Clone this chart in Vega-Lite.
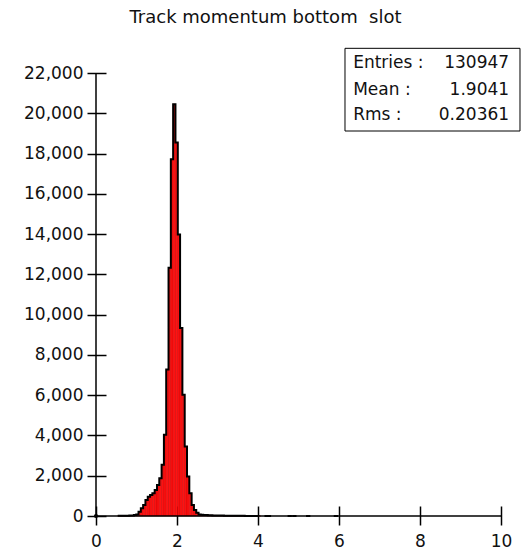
{
  "$schema": "https://vega.github.io/schema/vega-lite/v6.json",
  "width": 405,
  "height": 443,
  "autosize": {"type": "none"},
  "padding": {"left": 96, "top": 73, "right": 26, "bottom": 36},
  "background": "white",
  "config": {"view": {"stroke": null}, "font": "DejaVu Sans"},
  "title": {"text": "Track momentum bottom\u00a0 slot", "anchor": "middle", "frame": "group", "dx": -33, "dy": 15, "fontSize": 18, "fontWeight": "normal", "font": "DejaVu Sans", "color": "#111111", "baseline": "alphabetic", "offset": 22},
  "datasets": {
    "hist": [
      {"bin_start": 0.537, "bin_end": 0.594, "count": 8},
      {"bin_start": 0.594, "bin_end": 0.651, "count": 10},
      {"bin_start": 0.651, "bin_end": 0.708, "count": 12},
      {"bin_start": 0.708, "bin_end": 0.765, "count": 15},
      {"bin_start": 0.765, "bin_end": 0.822, "count": 18},
      {"bin_start": 0.822, "bin_end": 0.879, "count": 22},
      {"bin_start": 0.879, "bin_end": 0.936, "count": 30},
      {"bin_start": 0.936, "bin_end": 0.993, "count": 45},
      {"bin_start": 0.993, "bin_end": 1.050, "count": 80},
      {"bin_start": 1.050, "bin_end": 1.107, "count": 215},
      {"bin_start": 1.107, "bin_end": 1.164, "count": 380},
      {"bin_start": 1.164, "bin_end": 1.221, "count": 550},
      {"bin_start": 1.221, "bin_end": 1.278, "count": 800},
      {"bin_start": 1.278, "bin_end": 1.335, "count": 960},
      {"bin_start": 1.335, "bin_end": 1.392, "count": 1045},
      {"bin_start": 1.392, "bin_end": 1.449, "count": 1130},
      {"bin_start": 1.449, "bin_end": 1.506, "count": 1290},
      {"bin_start": 1.506, "bin_end": 1.563, "count": 1540},
      {"bin_start": 1.563, "bin_end": 1.620, "count": 1875},
      {"bin_start": 1.620, "bin_end": 1.677, "count": 2540},
      {"bin_start": 1.677, "bin_end": 1.734, "count": 4030},
      {"bin_start": 1.734, "bin_end": 1.791, "count": 7270},
      {"bin_start": 1.791, "bin_end": 1.848, "count": 12330},
      {"bin_start": 1.848, "bin_end": 1.905, "count": 17720},
      {"bin_start": 1.905, "bin_end": 1.962, "count": 20450},
      {"bin_start": 1.962, "bin_end": 2.019, "count": 18550},
      {"bin_start": 2.019, "bin_end": 2.076, "count": 13985},
      {"bin_start": 2.076, "bin_end": 2.133, "count": 9340},
      {"bin_start": 2.133, "bin_end": 2.190, "count": 6020},
      {"bin_start": 2.190, "bin_end": 2.247, "count": 3450},
      {"bin_start": 2.247, "bin_end": 2.304, "count": 1960},
      {"bin_start": 2.304, "bin_end": 2.361, "count": 1130},
      {"bin_start": 2.361, "bin_end": 2.418, "count": 550},
      {"bin_start": 2.418, "bin_end": 2.475, "count": 300},
      {"bin_start": 2.475, "bin_end": 2.532, "count": 165},
      {"bin_start": 2.532, "bin_end": 2.589, "count": 80},
      {"bin_start": 2.589, "bin_end": 2.646, "count": 60},
      {"bin_start": 2.646, "bin_end": 2.703, "count": 50},
      {"bin_start": 2.703, "bin_end": 2.760, "count": 45},
      {"bin_start": 2.760, "bin_end": 2.817, "count": 40},
      {"bin_start": 2.817, "bin_end": 2.874, "count": 35},
      {"bin_start": 2.874, "bin_end": 2.931, "count": 30},
      {"bin_start": 2.931, "bin_end": 2.988, "count": 28},
      {"bin_start": 2.988, "bin_end": 3.045, "count": 25},
      {"bin_start": 3.045, "bin_end": 3.102, "count": 22},
      {"bin_start": 3.102, "bin_end": 3.159, "count": 20},
      {"bin_start": 3.159, "bin_end": 3.216, "count": 18},
      {"bin_start": 3.216, "bin_end": 3.273, "count": 16},
      {"bin_start": 3.273, "bin_end": 3.330, "count": 14},
      {"bin_start": 3.330, "bin_end": 3.387, "count": 12},
      {"bin_start": 3.387, "bin_end": 3.444, "count": 11},
      {"bin_start": 3.444, "bin_end": 3.501, "count": 10},
      {"bin_start": 3.501, "bin_end": 3.558, "count": 9},
      {"bin_start": 3.558, "bin_end": 3.615, "count": 8},
      {"bin_start": 3.615, "bin_end": 3.672, "count": 7},
      {"bin_start": 3.672, "bin_end": 3.729, "count": 6},
      {"bin_start": 3.729, "bin_end": 3.786, "count": 5},
      {"bin_start": 3.786, "bin_end": 3.843, "count": 5},
      {"bin_start": 3.843, "bin_end": 3.900, "count": 4},
      {"bin_start": 3.900, "bin_end": 3.957, "count": 4},
      {"bin_start": 3.957, "bin_end": 4.014, "count": 3},
      {"bin_start": 4.014, "bin_end": 4.071, "count": 0}
    ],
    "sparse": [
      {"bin_start": 4.185, "bin_end": 4.242, "count": 1},
      {"bin_start": 4.242, "bin_end": 4.299, "count": 1},
      {"bin_start": 4.755, "bin_end": 4.812, "count": 1},
      {"bin_start": 4.869, "bin_end": 4.926, "count": 1},
      {"bin_start": 5.211, "bin_end": 5.268, "count": 1},
      {"bin_start": 5.895, "bin_end": 5.952, "count": 1}
    ]
  },
  "layer": [
    {
      "data": {"name": "hist"},
      "mark": {"type": "rect", "fill": "#ff1212", "stroke": "#c80000", "strokeWidth": 0.5},
      "encoding": {
        "x": {"field": "bin_start", "type": "quantitative",
          "scale": {"domain": [0, 10], "nice": false, "zero": true},
          "axis": {"values": [0, 2, 4, 6, 8, 10], "format": "d", "offset": -10, "tickSize": 19, "tickWidth": 1.5, "tickColor": "black", "domain": false, "grid": false, "labelFontSize": 17, "labelFont": "DejaVu Sans", "labelColor": "#111111", "labelPadding": 8, "labelFlush": false, "labelOverlap": false, "title": null}},
        "x2": {"field": "bin_end"},
        "y": {"field": "count", "type": "quantitative",
          "scale": {"domain": [0, 22000], "nice": false},
          "axis": {"values": [0, 2000, 4000, 6000, 8000, 10000, 12000, 14000, 16000, 18000, 20000, 22000], "format": ",d", "offset": -10, "tickSize": 19, "tickWidth": 1.5, "tickColor": "black", "domain": false, "grid": false, "labelFontSize": 17, "labelFont": "DejaVu Sans", "labelColor": "#111111", "labelPadding": 4, "labelOverlap": false, "title": null}},
        "y2": {"datum": 0}
      }
    },
    {
      "data": {"name": "hist"},
      "mark": {"type": "line", "interpolate": "step-after", "color": "black", "strokeWidth": 2},
      "encoding": {
        "x": {"field": "bin_start", "type": "quantitative"},
        "y": {"field": "count", "type": "quantitative"}
      }
    },
    {
      "data": {"name": "sparse"},
      "mark": {"type": "rect", "fill": "black", "stroke": "black", "strokeWidth": 2},
      "encoding": {
        "x": {"field": "bin_start", "type": "quantitative"},
        "x2": {"field": "bin_end"},
        "y": {"field": "count", "type": "quantitative"},
        "y2": {"datum": 0}
      }
    },
    {
      "data": {"values": [{}]},
      "mark": {"type": "rule", "color": "black", "strokeWidth": 1.5},
      "encoding": {
        "x": {"datum": 0, "type": "quantitative"},
        "x2": {"datum": 10},
        "y": {"datum": 0, "type": "quantitative"}
      }
    },
    {
      "data": {"values": [{}]},
      "mark": {"type": "rule", "color": "black", "strokeWidth": 1.5},
      "encoding": {
        "x": {"datum": 0, "type": "quantitative"},
        "y": {"datum": 0, "type": "quantitative"},
        "y2": {"datum": 22000}
      }
    },
    {
      "data": {"values": [{}]},
      "mark": {"type": "point", "filled": true, "color": "black", "size": 18, "opacity": 1},
      "encoding": {
        "x": {"datum": 0, "type": "quantitative"},
        "y": {"datum": 0, "type": "quantitative"}
      }
    },
    {
      "data": {"values": [{}]},
      "mark": {"type": "rect", "fill": "white", "stroke": "black", "strokeWidth": 1},
      "encoding": {
        "x": {"datum": 6.148, "type": "quantitative"},
        "x2": {"datum": 10.469},
        "y": {"datum": 23226, "type": "quantitative"},
        "y2": {"datum": 19119}
      }
    },
    {
      "data": {"values": [{}]},
      "mark": {"type": "text", "align": "left", "baseline": "middle", "fontSize": 17, "font": "DejaVu Sans", "color": "#111111"},
      "encoding": {
        "x": {"datum": 6.35, "type": "quantitative"},
        "y": {"datum": 22500, "type": "quantitative"},
        "text": {"value": "Entries :"}
      }
    },
    {
      "data": {"values": [{}]},
      "mark": {"type": "text", "align": "right", "baseline": "middle", "fontSize": 17, "font": "DejaVu Sans", "color": "#111111"},
      "encoding": {
        "x": {"datum": 10.2, "type": "quantitative"},
        "y": {"datum": 22500, "type": "quantitative"},
        "text": {"value": "130947"}
      }
    },
    {
      "data": {"values": [{}]},
      "mark": {"type": "text", "align": "left", "baseline": "middle", "fontSize": 17, "font": "DejaVu Sans", "color": "#111111"},
      "encoding": {
        "x": {"datum": 6.35, "type": "quantitative"},
        "y": {"datum": 21180, "type": "quantitative"},
        "text": {"value": "Mean :"}
      }
    },
    {
      "data": {"values": [{}]},
      "mark": {"type": "text", "align": "right", "baseline": "middle", "fontSize": 17, "font": "DejaVu Sans", "color": "#111111"},
      "encoding": {
        "x": {"datum": 10.2, "type": "quantitative"},
        "y": {"datum": 21180, "type": "quantitative"},
        "text": {"value": "1.9041"}
      }
    },
    {
      "data": {"values": [{}]},
      "mark": {"type": "text", "align": "left", "baseline": "middle", "fontSize": 17, "font": "DejaVu Sans", "color": "#111111"},
      "encoding": {
        "x": {"datum": 6.35, "type": "quantitative"},
        "y": {"datum": 19930, "type": "quantitative"},
        "text": {"value": "Rms :"}
      }
    },
    {
      "data": {"values": [{}]},
      "mark": {"type": "text", "align": "right", "baseline": "middle", "fontSize": 17, "font": "DejaVu Sans", "color": "#111111"},
      "encoding": {
        "x": {"datum": 10.2, "type": "quantitative"},
        "y": {"datum": 19930, "type": "quantitative"},
        "text": {"value": "0.20361"}
      }
    }
  ]
}
